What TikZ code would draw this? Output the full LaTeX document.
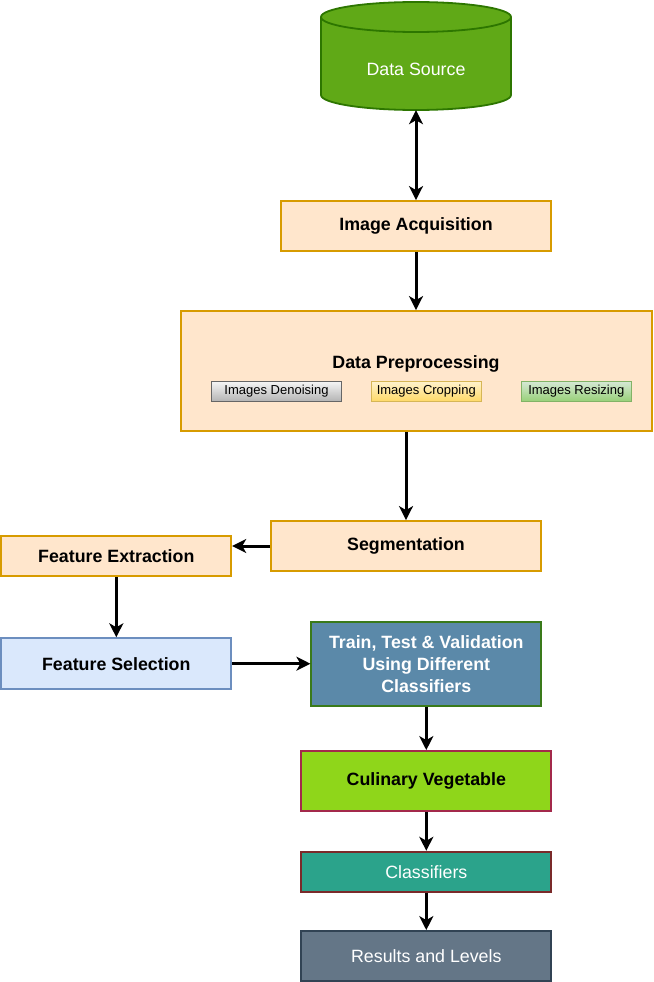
\documentclass[tikz,border=0pt]{standalone}
\usepackage{fontspec}
\setmainfont{Liberation Sans}
\usetikzlibrary{arrows.meta}
\definecolor{orfill}{HTML}{FFE6CC}
\definecolor{ordraw}{HTML}{D79B00}
\definecolor{dsfill}{HTML}{60A917}
\definecolor{dsdraw}{HTML}{2D7600}
\definecolor{selfill}{HTML}{DAE8FC}
\definecolor{seldraw}{HTML}{6C8EBF}
\definecolor{trfill}{HTML}{5B89A9}
\definecolor{trdraw}{HTML}{3A7A1A}
\definecolor{cufill}{HTML}{8FD61A}
\definecolor{cudraw}{HTML}{A3294B}
\definecolor{clfill}{HTML}{2BA38B}
\definecolor{cldraw}{HTML}{7A2A2A}
\definecolor{refill}{HTML}{647687}
\definecolor{redraw}{HTML}{314354}
\definecolor{gytop}{HTML}{F5F5F5}
\definecolor{gybot}{HTML}{B3B3B3}
\definecolor{gydraw}{HTML}{666666}
\definecolor{yetop}{HTML}{FFF2CC}
\definecolor{yebot}{HTML}{FFD966}
\definecolor{yedraw}{HTML}{D6B656}
\definecolor{grtop}{HTML}{D5E8D4}
\definecolor{grbot}{HTML}{97D077}
\definecolor{grdraw}{HTML}{82B366}
\tikzset{
  box/.style={rectangle, line width=1.8pt, inner sep=0pt, align=center,
    font=\fontsize{17.8}{22}\selectfont\bfseries},
  orbox/.style={box, fill=orfill, draw=ordraw},
  subbox/.style={rectangle, line width=1pt, inner sep=0pt, minimum height=20pt,
    font=\fontsize{13}{15}\selectfont},
  conn/.style={line width=3pt, -{Stealth[length=14pt,width=14pt,inset=4pt]}},
  biconn/.style={line width=3pt, {Stealth[length=14pt,width=14pt,inset=4pt]}-{Stealth[length=14pt,width=14pt,inset=4pt]}}
}
\begin{document}
\begin{tikzpicture}[x=1pt,y=-1pt]
\useasboundingbox (0,0) rectangle (653,982);
% cylinder
\draw[fill=dsfill, draw=dsdraw, line width=1.8pt]
  (321,17) -- (321,95) arc (180:360:95pt and 15pt) -- (511,17) arc (0:180:95pt and 15pt) -- cycle;
\draw[draw=dsdraw, line width=1.8pt] (321,17) arc (180:360:95pt and 15pt);
\node[inner sep=0pt, minimum width=190pt, minimum height=108pt] (ds) at (416,56) {};
\node[text=white, font=\fontsize{17.8}{22}\selectfont] (dstext) at (416,69) {Data Source};

\node[orbox, minimum width=270pt, minimum height=50pt] (acq) at (416,226) {Image Acquisition};
\node[orbox, minimum width=471pt, minimum height=120pt] (pre) at (416.5,371) {};
\node[font=\fontsize{17.8}{22}\selectfont\bfseries] (pretitle) at (416,364) {Data Preprocessing};
\node[subbox, minimum width=130pt, top color=gytop, bottom color=gybot, draw=gydraw] (den) at (276.5,391.5) {Images Denoising};
\node[subbox, minimum width=110pt, top color=yetop, bottom color=yebot, draw=yedraw] (crop) at (426.3,391.5) {Images Cropping};
\node[subbox, minimum width=110pt, top color=grtop, bottom color=grbot, draw=grdraw] (resz) at (576.3,391.5) {Images Resizing};

\node[orbox, minimum width=270pt, minimum height=50pt] (seg) at (406,546) {Segmentation};
\node[orbox, minimum width=230pt, minimum height=40pt] (fext) at (116.3,556.3) {Feature Extraction};
\node[box, fill=selfill, draw=seldraw, minimum width=230pt, minimum height=51pt] (fsel) at (116.3,663.7) {Feature Selection};
\node[box, fill=trfill, draw=trdraw, text=white, minimum width=230pt, minimum height=84pt] (train) at (426.3,663.7)
  {Train, Test \& Validation\\Using Different\\Classifiers};
\node[box, fill=cufill, draw=cudraw, minimum width=250pt, minimum height=60pt] (cul) at (426.3,781) {Culinary Vegetable};
\node[box, fill=clfill, draw=cldraw, text=white, minimum width=250pt, minimum height=40pt,
  font=\fontsize{17.8}{22}\selectfont] (cls) at (426.3,871.7) {Classifiers};
\node[box, fill=refill, draw=redraw, text=white, minimum width=250pt, minimum height=50pt,
  font=\fontsize{17.8}{22}\selectfont] (res) at (426.3,956) {Results and Levels};

% connectors
\draw[biconn] (ds.south) -- (acq.north);
\draw[conn] (acq.south) -- (pre.north -| acq.south);
\draw[conn] (seg.north |- pre.south) -- (seg.north);
\draw[conn] (seg.west) -- (seg.west -| fext.east);
\draw[conn] (fext.south) -- (fsel.north);
\draw[conn] (fsel.east) -- (train.west);
\draw[conn] (train.south) -- (cul.north);
\draw[conn] (cul.south) -- (cls.north);
\draw[conn] (cls.south) -- (res.north);
\end{tikzpicture}
\end{document}
